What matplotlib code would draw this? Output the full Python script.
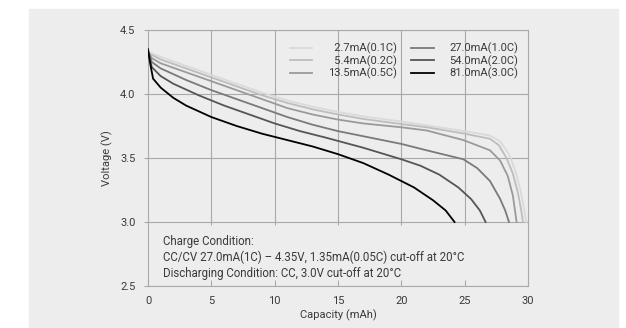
import matplotlib.pyplot as plt
from matplotlib.patches import Rectangle

# discharge curves (capacity mAh, voltage V)
cap_01c = [0, 1, 3, 5, 7, 9, 11, 13, 15, 17, 20, 22, 25, 27, 27.8, 28.5, 29.0, 29.4, 29.7, 29.85]
v_01c = [4.33, 4.29, 4.22, 4.15, 4.08, 4.01, 3.95, 3.90, 3.86, 3.825, 3.785, 3.755, 3.71, 3.675,
         3.63, 3.53, 3.40, 3.25, 3.10, 3.0]

cap_02c = [0, 1, 3, 5, 7, 9, 11, 13, 15, 17, 20, 22, 25, 27, 27.7, 28.3, 28.8, 29.2, 29.45, 29.6]
v_02c = [4.32, 4.27, 4.20, 4.13, 4.06, 3.99, 3.93, 3.88, 3.84, 3.805, 3.765, 3.74, 3.69, 3.65,
         3.60, 3.50, 3.38, 3.23, 3.10, 3.0]

cap_05c = [0, 0.3, 1, 3, 5, 7, 9, 11, 13, 15, 17, 20, 22, 24.9, 27, 27.8, 28.4, 28.8, 29.1]
v_05c = [4.33, 4.28, 4.24, 4.17, 4.10, 4.03, 3.96, 3.89, 3.84, 3.80, 3.77, 3.74, 3.715, 3.64,
         3.56, 3.48, 3.36, 3.21, 3.0]

cap_1c = [0, 0.3, 1, 3, 5, 7, 9, 11, 13, 15, 17, 20, 22, 24.9, 26, 27, 27.8, 28.2, 28.5]
v_1c = [4.34, 4.25, 4.20, 4.11, 4.03, 3.96, 3.89, 3.82, 3.76, 3.71, 3.67, 3.61, 3.56, 3.49,
        3.42, 3.32, 3.18, 3.09, 3.0]

cap_2c = [0, 0.3, 1, 2, 4, 6, 8, 10, 12, 14, 17, 20, 21.5, 23, 24.5, 25.5, 26.2, 26.65]
v_2c = [4.34, 4.21, 4.14, 4.08, 3.99, 3.91, 3.84, 3.77, 3.71, 3.66, 3.58, 3.49, 3.44, 3.37,
        3.27, 3.18, 3.09, 3.0]

cap_3c = [0, 0.15, 0.4, 1, 2, 3, 5, 7, 9, 11, 13, 15, 17, 19, 21, 22.5, 23.5, 24.2]
v_3c = [4.35, 4.25, 4.12, 4.05, 3.97, 3.91, 3.82, 3.75, 3.69, 3.64, 3.59, 3.53, 3.46, 3.37,
        3.27, 3.17, 3.09, 3.0]

labels = ['\u20072.7mA(0.1C)', '\u20075.4mA(0.2C)', '13.5mA(0.5C)',
          '27.0mA(1.0C)', '54.0mA(2.0C)', '81.0mA(3.0C)']
colors = ['#dadada', '#bdbdbd', '#9a9a9a', '#7a7a7a', '#555555', '#000000']

x_ticks = [0, 5, 10, 15, 20, 25, 30]
y_ticks = [2.5, 3.0, 3.5, 4.0, 4.5]

note = ("Charge Condition:\n"
        "CC/CV 27.0mA(1C) \u2013 4.35V, 1.35mA(0.05C) cut-off at 20\u00b0C\n"
        "Discharging Condition: CC, 3.0V cut-off at 20\u00b0C")

plt.rcParams['font.family'] = ['Roboto', 'DejaVu Sans']
TXT = '#3a3a3a'
GRID = '#a9a9a9'

fig = plt.figure(figsize=(6.26, 3.28), dpi=100)
# light grey panel behind the chart
fig.patches.append(Rectangle((29 / 626, 0), 589 / 626, 319 / 328,
                             transform=fig.transFigure, color='#ededed', zorder=-10))

ax = fig.add_axes([148 / 626, 42 / 328, 380 / 626, 256 / 328])
ax.set_facecolor('none')
ax.set_zorder(5)

series = [(cap_01c, v_01c), (cap_02c, v_02c), (cap_05c, v_05c),
          (cap_1c, v_1c), (cap_2c, v_2c), (cap_3c, v_3c)]
for (c, v), lab, col in zip(series, labels, colors):
    ax.plot(c, v, color=col, lw=1.3, label=lab, zorder=3)

ax.set_xlim(0, 30)
ax.set_ylim(2.5, 4.5)
ax.set_xticks(x_ticks)
ax.set_yticks(y_ticks)
ax.set_yticklabels([f'{t:.1f}' for t in y_ticks])

# grid: horizontal full width, vertical only down to the note box
for y in y_ticks:
    ax.axhline(y, color=GRID, lw=0.8, zorder=1)
ax.vlines(x_ticks[1:-1], 2.98, 4.5, color=GRID, lw=0.8, zorder=1)

for s in ax.spines.values():
    s.set_color(GRID)
    s.set_linewidth(0.8)

ax.tick_params(axis='x', direction='in', length=4, color=GRID, labelsize=8,
               labelcolor=TXT, pad=7)
ax.tick_params(axis='y', direction='out', length=3, color=GRID, labelsize=8,
               labelcolor=TXT, pad=6)

ax.set_xlabel('Capacity (mAh)', fontsize=8, color=TXT, labelpad=3)
ax.set_ylabel('Voltage (V)', fontsize=8, color=TXT, labelpad=5)

ax.text(1.15, 2.895, note, fontsize=8.3, color=TXT, va='top', ha='left',
        linespacing=1.25)

ax.legend(loc='upper right', bbox_to_anchor=(1.0, 0.99), ncol=2, frameon=False,
          fontsize=8, handlelength=2.0, handletextpad=1.4, columnspacing=1.3,
          labelspacing=0.1, labelcolor=TXT)

fig.savefig('out.png', dpi=100)
